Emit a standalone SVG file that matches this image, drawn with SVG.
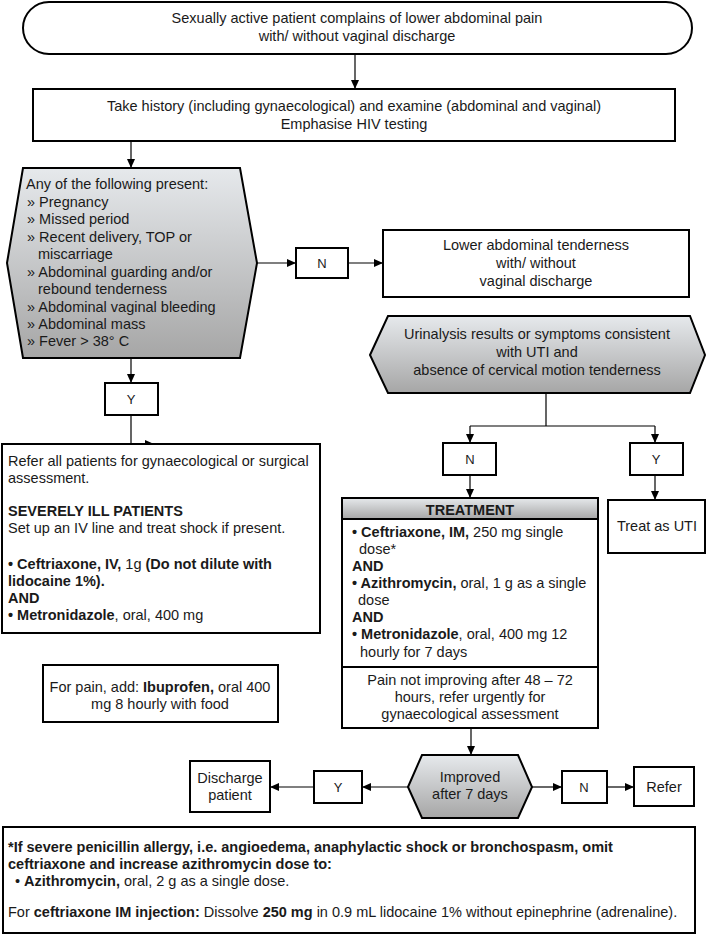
<svg xmlns="http://www.w3.org/2000/svg" width="706" height="937" viewBox="0 0 706 937">
<defs>
<linearGradient id="g" x1="0" y1="0" x2="0" y2="1">
<stop offset="0" stop-color="#e6e9ec"/>
<stop offset="1" stop-color="#a6a6a6"/>
</linearGradient>
<marker id="a" markerWidth="9" markerHeight="8" refX="8" refY="4" orient="auto" markerUnits="userSpaceOnUse">
<path d="M0,0 L9,4 L0,8 z" fill="#000"/>
</marker>
<style>
text{font-family:"Liberation Sans",Arial,sans-serif;font-size:14.5px;fill:#1a1a1a}
.m{text-anchor:middle}
.s{font-size:13px}
.b{font-weight:bold}
.box{fill:#fff;stroke:#000;stroke-width:2}
.hex{fill:url(#g);stroke:#000;stroke-width:2}
.c{fill:none;stroke:#000;stroke-width:1.2}
.ca{fill:none;stroke:#000;stroke-width:1.2;marker-end:url(#a)}
</style>
</defs>
<rect width="706" height="937" fill="#fff"/>

<g id="connectors">
<path class="ca" d="M355,54 V88"/>
<path class="ca" d="M131,141 V167"/>
<path class="ca" d="M257,263 H295"/>
<path class="ca" d="M348,263 H382"/>
<path class="ca" d="M131,358 V382"/>
<path class="ca" d="M131,415 V444 H153"/>
<path class="c" d="M546,393 V426 M470,426 H655"/>
<path class="ca" d="M470,426 V442"/>
<path class="ca" d="M655,426 V442"/>
<path class="ca" d="M470,475 V497"/>
<path class="ca" d="M655,475 V499"/>
<path class="ca" d="M471,728 V754"/>
<path class="ca" d="M408,787 H363"/>
<path class="ca" d="M314,787 H271"/>
<path class="ca" d="M532,787 H561"/>
<path class="ca" d="M607,787 H633"/>
</g>

<g id="start">
<rect class="box" x="23" y="2" width="669" height="52" rx="26"/>
<text class="m" x="357" y="23">Sexually active patient complains of lower abdominal pain</text>
<text class="m" x="357" y="41">with/ without vaginal discharge</text>
</g>

<g id="history">
<rect class="box" x="33" y="89" width="642" height="52"/>
<text class="m" x="354" y="111">Take history (including gynaecological) and examine (abdominal and vaginal)</text>
<text class="m" x="354" y="129">Emphasise HIV testing</text>
</g>

<g id="danger-signs">
<polygon class="hex" points="7,263 23,168 240,168 257,263 240,358 23,358"/>
<text x="26" y="189">Any of the following present:</text>
<text x="27" y="207">» Pregnancy</text>
<text x="27" y="224">» Missed period</text>
<text x="27" y="242">» Recent delivery, TOP or</text>
<text x="38" y="259">miscarriage</text>
<text x="27" y="277">» Abdominal guarding and/or</text>
<text x="38" y="294">rebound tenderness</text>
<text x="27" y="312">» Abdominal vaginal bleeding</text>
<text x="27" y="329">» Abdominal mass</text>
<text x="27" y="346">» Fever &gt; 38° C</text>
</g>

<g id="n1">
<rect class="box" x="296" y="248" width="52" height="30"/>
<text class="m s" x="322" y="268">N</text>
</g>

<g id="lower-tenderness">
<rect class="box" x="383" y="230" width="306" height="67"/>
<text class="m" x="536" y="250">Lower abdominal tenderness</text>
<text class="m" x="536" y="268">with/ without</text>
<text class="m" x="536" y="286">vaginal discharge</text>
</g>

<g id="uti-check">
<polygon class="hex" points="370,355 388,316 690,316 705,355 690,393 388,393"/>
<text class="m" x="537" y="339">Urinalysis results or symptoms consistent</text>
<text class="m" x="537" y="357">with UTI and</text>
<text class="m" x="537" y="375">absence of cervical motion tenderness</text>
</g>

<g id="y1">
<rect class="box" x="105" y="383" width="53" height="32"/>
<text class="m s" x="131" y="404">Y</text>
</g>

<g id="refer-all">
<rect class="box" x="2" y="444" width="318" height="189"/>
<text x="8" y="466">Refer all patients for gynaecological or surgical</text>
<text x="8" y="483">assessment.</text>
<text x="8" y="516" class="b">SEVERELY ILL PATIENTS</text>
<text x="8" y="533">Set up an IV line and treat shock if present.</text>
<text x="8" y="569"><tspan class="b">• Ceftriaxone, IV,</tspan> 1g <tspan class="b">(Do not dilute with</tspan></text>
<text x="8" y="586" class="b">lidocaine 1%).</text>
<text x="8" y="603" class="b">AND</text>
<text x="8" y="620"><tspan class="b">• Metronidazole</tspan>, oral, 400 mg</text>
</g>

<g id="ibuprofen">
<rect class="box" x="43" y="665" width="235" height="57"/>
<text class="m" x="160" y="692">For pain, add: <tspan class="b">Ibuprofen,</tspan> oral 400</text>
<text class="m" x="160" y="709">mg 8 hourly with food</text>
</g>

<g id="n2">
<rect class="box" x="443" y="443" width="53" height="32"/>
<text class="m s" x="470" y="464">N</text>
</g>

<g id="y2">
<rect class="box" x="630" y="443" width="53" height="32"/>
<text class="m s" x="656" y="464">Y</text>
</g>

<g id="treatment">
<rect class="box" x="342" y="498" width="256" height="169"/>
<rect x="342" y="498" width="256" height="21" fill="url(#g)" stroke="#000" stroke-width="2"/>
<text class="m b" x="470" y="515">TREATMENT</text>
<text x="352" y="537"><tspan class="b">• Ceftriaxone, IM,</tspan> 250 mg single</text>
<text x="359" y="554">dose*</text>
<text x="352" y="571" class="b">AND</text>
<text x="352" y="588"><tspan class="b">• Azithromycin,</tspan> oral, 1 g as a single</text>
<text x="358" y="605">dose</text>
<text x="352" y="622" class="b">AND</text>
<text x="352" y="639"><tspan class="b">• Metronidazole</tspan>, oral, 400 mg 12</text>
<text x="360" y="657">hourly for 7 days</text>
</g>

<g id="pain-not-improving">
<rect class="box" x="342" y="667" width="256" height="61"/>
<text class="m" x="470" y="685">Pain not improving after 48 – 72</text>
<text class="m" x="470" y="702">hours, refer urgently for</text>
<text class="m" x="470" y="719">gynaecological assessment</text>
</g>

<g id="treat-uti">
<rect class="box" x="608" y="500" width="97" height="53"/>
<text class="m" x="657" y="531">Treat as UTI</text>
</g>

<g id="improved">
<polygon class="hex" points="408,787 422,755 518,755 532,787 518,818 422,818"/>
<text class="m" x="470" y="782">Improved</text>
<text class="m" x="470" y="799">after 7 days</text>
</g>

<g id="y3">
<rect class="box" x="314" y="771" width="48" height="32"/>
<text class="m s" x="338" y="792">Y</text>
</g>

<g id="discharge">
<rect class="box" x="190" y="761" width="80" height="51"/>
<text class="m" x="230" y="783">Discharge</text>
<text class="m" x="230" y="800">patient</text>
</g>

<g id="n3">
<rect class="box" x="562" y="771" width="45" height="32"/>
<text class="m s" x="584" y="792">N</text>
</g>

<g id="refer">
<rect class="box" x="634" y="767" width="60" height="39"/>
<text class="m" x="664" y="792">Refer</text>
</g>

<g id="footnote">
<rect class="box" x="3" y="827" width="692" height="106"/>
<text x="8" y="852" class="b">*If severe penicillin allergy, i.e. angioedema, anaphylactic shock or bronchospasm, omit</text>
<text x="8" y="869" class="b">ceftriaxone and increase azithromycin dose to:</text>
<text x="15" y="886">• <tspan class="b">Azithromycin,</tspan> oral, 2 g as a single dose.</text>
<text x="8" y="917">For <tspan class="b">ceftriaxone IM injection:</tspan> Dissolve <tspan class="b">250 mg</tspan> in 0.9 mL lidocaine 1% without epinephrine (adrenaline).</text>
</g>
</svg>
